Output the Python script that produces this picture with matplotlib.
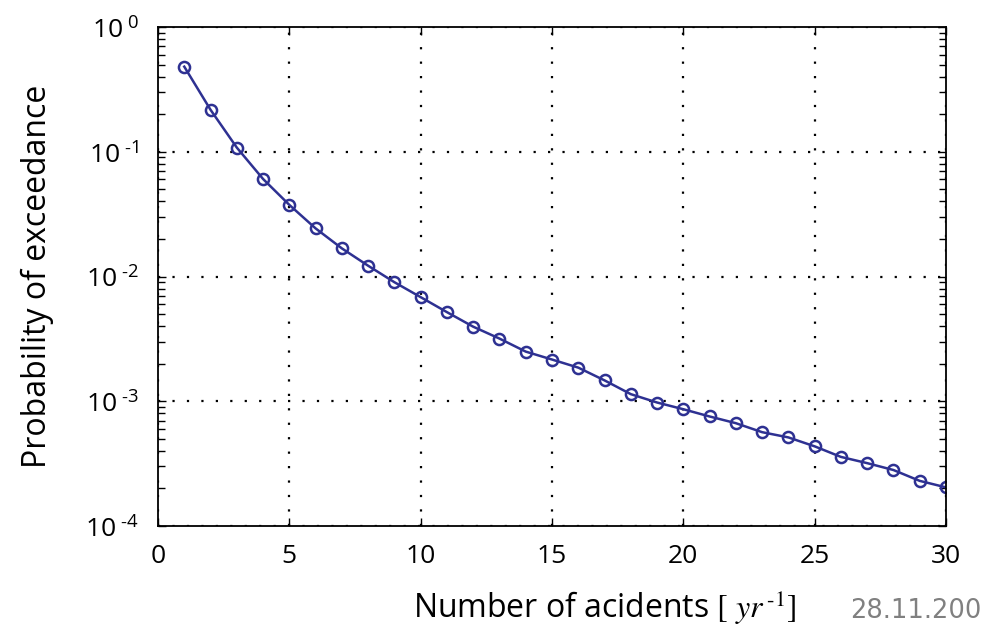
import matplotlib
matplotlib.use("Agg")
import matplotlib.pyplot as plt
from matplotlib.ticker import LogLocator, FixedLocator, FuncFormatter, NullFormatter
import numpy as np

# numero de accidentes por ano
acidents = list(range(1, 31))

# probabilidad de excedencia
prob_exceed = [0.481, 0.217, 0.108, 0.0605, 0.0375, 0.0243, 0.0168, 0.0122, 0.0090, 0.00683,
               0.00518, 0.00396, 0.00318, 0.00250, 0.00216, 0.00186, 0.00147, 0.00114, 0.000977, 0.000863,
               0.000755, 0.000667, 0.000565, 0.000513, 0.000435, 0.000358, 0.000319, 0.000281, 0.000230, 0.000204]

x_ticks = [0, 5, 10, 15, 20, 25, 30]
y_ticks = [1e-4, 1e-3, 1e-2, 1e-1, 1e0]

plt.rcParams['font.family'] = ['Open Sans', 'DejaVu Sans']
plt.rcParams['mathtext.fontset'] = 'stix'

fig = plt.figure(figsize=(9.84, 6.28), dpi=100)
ax = fig.add_axes([158/984, 1-526/628, 788/984, 499/628])

ax.plot(acidents, prob_exceed, color='#2E3192', lw=1.8, marker='o', ms=8,
        mfc='none', mec='#2E3192', mew=1.8)

ax.set_yscale('log')
ax.set_xlim(0, 30)
ax.set_ylim(1e-4, 1e0)
ax.xaxis.set_major_locator(FixedLocator(x_ticks))
ax.yaxis.set_major_locator(FixedLocator(y_ticks))
ax.yaxis.set_minor_locator(LogLocator(base=10, subs=np.arange(2, 10)))
ax.yaxis.set_minor_formatter(NullFormatter())

def fmt_exp(v, pos):
    e = int(round(np.log10(v)))
    sign = r'\text{-}' if e < 0 else ''
    return r'$\mathregular{10}^{\ \mathregular{%s%d}}$' % (sign, abs(e))

ax.yaxis.set_major_formatter(FuncFormatter(fmt_exp))

ax.tick_params(which='both', direction='in', top=True, right=True, width=1.0)
ax.tick_params(which='major', length=5.5, labelsize=19)
ax.tick_params(which='minor', length=5.0)
ax.tick_params(axis='x', pad=13)
ax.tick_params(axis='y', pad=14)

for s in ax.spines.values():
    s.set_linewidth(1.3)

ax.grid(True, which='major', color='black', linestyle=(0, (1, 5.5)), lw=1.6)

ax.set_xlabel(r'Number of acidents $[\,\,\mathit{yr}^{\,\text{-}1}]$', fontsize=23)
ax.xaxis.label.set_va('baseline')
ax.xaxis.set_label_coords(0.567, -0.184)
ax.set_ylabel('Probability of exceedance', fontsize=23)
ax.yaxis.set_label_coords(-0.132, 0.5)

fig.text(850/984, 1-618/628, '28.11.200', color='#808080', fontsize=18.5,
         family='DejaVu Sans', va='baseline')

fig.savefig('out.png', dpi=100)
